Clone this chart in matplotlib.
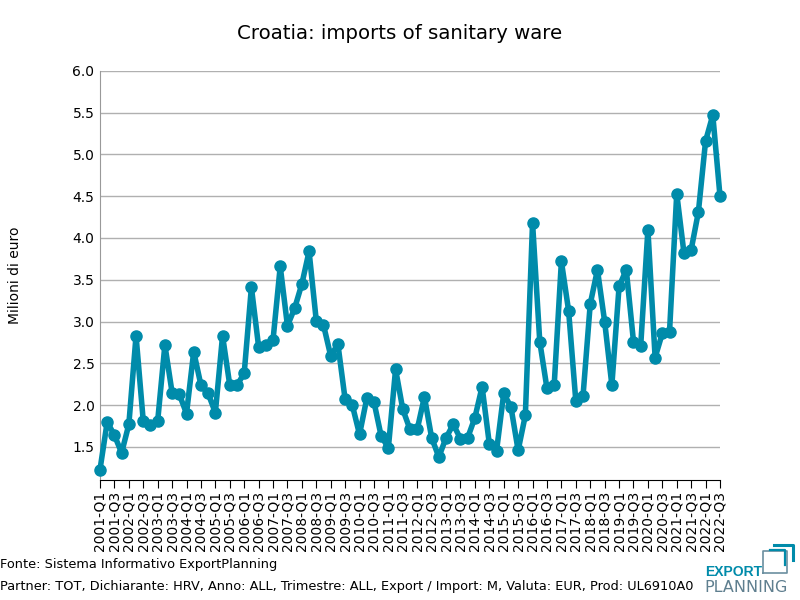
import matplotlib
matplotlib.use('Agg')
import matplotlib.pyplot as plt
from matplotlib.lines import Line2D

# dati trimestrali (milioni di euro), 2001-Q1 .. 2022-Q3
anni = list(range(2001, 2023))
trimestri = [f'{a}-Q{q}' for a in anni for q in range(1, 5)][:87]
valori = [
    1.23, 1.80, 1.64, 1.43, 1.77, 2.83, 1.81, 1.76, 1.81, 2.72, 2.15, 2.13,
    1.90, 2.64, 2.24, 2.14, 1.91, 2.83, 2.24, 2.24, 2.38, 3.41, 2.70, 2.72,
    2.78, 3.66, 2.95, 3.16, 3.45, 3.84, 3.01, 2.96, 2.59, 2.73, 2.07, 2.00,
    1.65, 2.08, 2.04, 1.63, 1.49, 2.43, 1.95, 1.71, 1.71, 2.10, 1.61, 1.38,
    1.61, 1.77, 1.60, 1.61, 1.85, 2.22, 1.54, 1.45, 2.14, 1.98, 1.46, 1.88,
    4.18, 2.76, 2.20, 2.24, 3.72, 3.13, 2.05, 2.11, 3.21, 3.62, 3.00, 2.24,
    3.42, 3.62, 2.76, 2.71, 4.10, 2.57, 2.86, 2.88, 4.53, 3.82, 3.86, 4.31,
    5.16, 5.47, 4.50,
]
tick_labels = trimestri[::2]

colore = '#008BAA'

fig = plt.figure(figsize=(8, 6), dpi=100)
ax = fig.add_axes([0.125, 0.2, 0.775, 0.682])

x = list(range(len(valori)))
ax.plot(x, valori, color=colore, linewidth=4, marker='o', markersize=8,
        solid_joinstyle='round', zorder=3, clip_on=False)

ax.set_xlim(0, len(valori) - 1)
ax.set_ylim(1.105, 6.0)
ax.set_yticks([1.5, 2.0, 2.5, 3.0, 3.5, 4.0, 4.5, 5.0, 5.5, 6.0])
ax.set_yticklabels([f'{v:.1f}' for v in ax.get_yticks()], fontsize=10)
ax.set_xticks(x[::2])
ax.set_xticklabels(tick_labels, rotation=90, fontsize=10)
ax.tick_params(axis='x', length=6, pad=2)
ax.tick_params(axis='y', length=0, pad=4)

ax.grid(axis='y', color='#b0b0b0', linewidth=1)
ax.set_axisbelow(True)
for s in ['top', 'right']:
    ax.spines[s].set_visible(False)
ax.spines['left'].set_color('#999999')

ax.set_ylabel('Milioni di euro', fontsize=10)
ax.yaxis.set_label_coords(-0.125, 0.5)
fig.suptitle('Croatia: imports of sanitary ware', fontsize=14.2, y=0.96)

fig.text(0.0, 0.053, 'Fonte: Sistema Informativo ExportPlanning', fontsize=9.3)
fig.text(0.0, 0.017, 'Partner: TOT, Dichiarante: HRV, Anno: ALL, Trimestre: ALL, '
         'Export / Import: M, Valuta: EUR, Prod: UL6910A0', fontsize=9.3)

# logo
fig.text(0.882, 0.04, 'EXPORT', fontsize=10, fontweight='bold', color=colore,
         family='Liberation Sans')
fig.text(0.881, 0.013, 'PLANNING', fontsize=11.5, color='#5f7f8f')
fig.add_artist(Line2D([0.954, 0.954, 0.984, 0.984, 0.954],
                      [0.045, 0.082, 0.082, 0.045, 0.045],
                      transform=fig.transFigure, color='#6b8fa0', lw=1.2))
fig.add_artist(Line2D([0.968, 0.991, 0.991], [0.092, 0.092, 0.066],
                      transform=fig.transFigure, color=colore, lw=2.2))
fig.add_artist(Line2D([0.962, 0.981, 0.981], [0.083, 0.083, 0.058],
                      transform=fig.transFigure, color=colore, lw=1.6))

fig.savefig('out.png', dpi=100)
